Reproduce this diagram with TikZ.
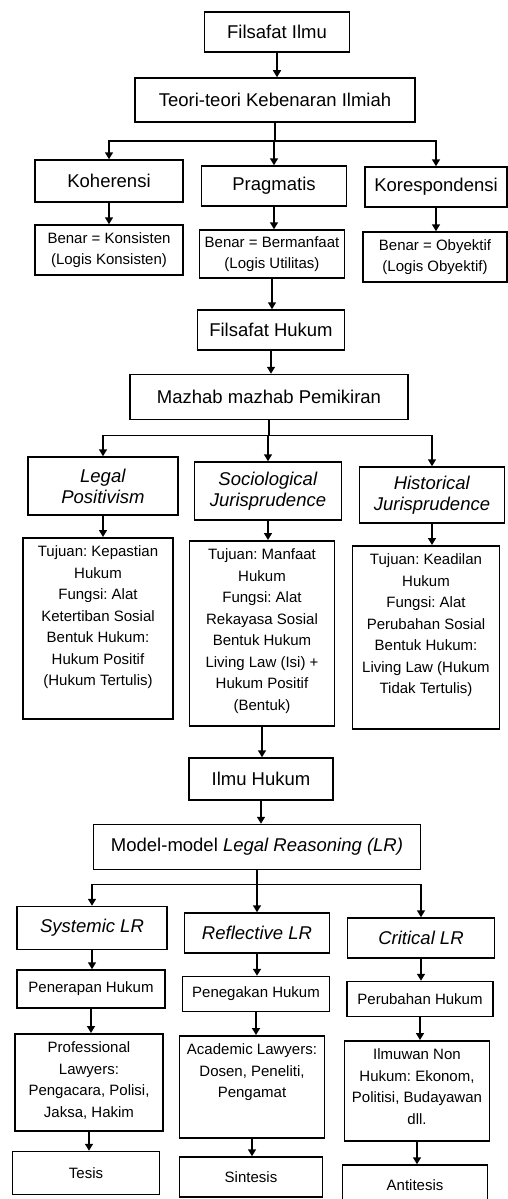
\documentclass[tikz,border=0pt]{standalone}
\usepackage{fontspec}
\setmainfont{Liberation Sans}
\usetikzlibrary{arrows.meta}

\tikzset{
  box/.style={draw,line width=1.5pt,align=center,inner sep=2pt,
    font=\fontsize{18.5}{21}\selectfont},
  smallbox/.style={draw,line width=1.5pt,align=center,inner sep=1pt,
    font=\fontsize{15}{21.5}\selectfont},
  descbox/.style={draw,line width=1.5pt,anchor=north,inner xsep=2pt,
    inner ysep=8pt,font=\fontsize{15}{21.5}\selectfont},
  link/.style={line width=1.5pt},
  arr/.style={line width=1.5pt,-{Triangle[width=8pt,length=7pt]}}
}
\newcommand{\toptext}[2]{\parbox[t][#1][t]{140pt}{\centering #2}}
\frenchspacing

\begin{document}
\begin{tikzpicture}[x=1pt,y=-1pt]
\useasboundingbox (0,0) rectangle (507,1199);

% Filsafat Ilmu and the three theories of truth
\node[box,minimum width=145pt,minimum height=40pt] (filsafat) at (277,32) {Filsafat Ilmu};
\node[box,minimum width=280pt,minimum height=44pt] (teori) at (275,100) {Teori-teori Kebenaran Ilmiah};
\node[box,minimum width=148pt,minimum height=42pt] (koh) at (109,181) {Koherensi};
\node[box,minimum width=145pt,minimum height=40pt] (prag) at (274,186) {Pragmatis};
\node[box,minimum width=142pt,minimum height=40pt] (kor) at (436,187) {Korespondensi};
\node[smallbox,minimum width=148pt,minimum height=50pt] (benK) at (109,250)
  {Benar = Konsisten\\(Logis Konsisten)};
\node[smallbox,minimum width=145pt,minimum height=48pt] (benB) at (272,254)
  {Benar = Bermanfaat\\(Logis Utilitas)};
\node[smallbox,minimum width=144pt,minimum height=50pt] (benO) at (435,257)
  {Benar = Obyektif\\(Logis Obyektif)};

% Filsafat Hukum and the schools of thought
\node[box,minimum width=147pt,minimum height=40pt] (fh) at (271,330) {Filsafat Hukum};
\node[box,minimum width=278pt,minimum height=45pt] (maz) at (269,397) {Mazhab mazhab Pemikiran};
\node[box,minimum width=150pt,minimum height=58pt] (legal) at (103,486)
  {\textit{Legal}\\\textit{Positivism}};
\node[box,minimum width=147pt,minimum height=58pt] (soc) at (268,491)
  {\textit{Sociological}\\\textit{Jurisprudence}};
\node[box,minimum width=145pt,minimum height=56pt] (hist) at (432,495)
  {\textit{Historical}\\\textit{Jurisprudence}};
\node[descbox,minimum width=150pt] (legD) at (98,537)
  {\toptext{165pt}{Tujuan: Kepastian\\Hukum\\Fungsi: Alat\\Ketertiban Sosial\\Bentuk Hukum:\\Hukum Positif\\(Hukum Tertulis)}};
\node[descbox,minimum width=145pt] (socD) at (262,540)
  {\toptext{169pt}{Tujuan: Manfaat\\Hukum\\Fungsi: Alat\\Rekayasa Sosial\\Bentuk Hukum\\Living Law (Isi) +\\Hukum Positif\\(Bentuk)}};
\node[descbox,minimum width=147pt] (histD) at (426,545)
  {\toptext{167pt}{Tujuan: Keadilan\\Hukum\\Fungsi: Alat\\Perubahan Sosial\\Bentuk Hukum:\\Living Law (Hukum\\Tidak Tertulis)}};

% Ilmu Hukum and the models of legal reasoning
\node[box,minimum width=144pt,minimum height=42pt] (ilmu) at (261,779) {Ilmu Hukum};
\node[box,minimum width=327pt,minimum height=45pt] (model) at (257,847)
  {Model-model \textit{Legal Reasoning (LR)}};
\node[box,minimum width=150pt,minimum height=43pt] (sys) at (92,928) {\textit{Systemic LR}};
\node[box,minimum width=145pt,minimum height=40pt] (ref) at (257,933) {\textit{Reflective LR}};
\node[box,minimum width=147pt,minimum height=40pt] (crit) at (421,938) {\textit{Critical LR}};
\node[smallbox,minimum width=148pt,minimum height=38pt] (pen1) at (91,989) {Penerapan Hukum};
\node[smallbox,minimum width=147pt,minimum height=35pt] (pen2) at (256,994) {Penegakan Hukum};
\node[smallbox,minimum width=146pt,minimum height=35pt] (pen3) at (420,999) {Perubahan Hukum};
\node[descbox,minimum width=148pt] (prof) at (89,1033)
  {\toptext{81pt}{Professional\\Lawyers:\\Pengacara, Polisi,\\Jaksa, Hakim}};
\node[descbox,minimum width=145pt] (acad) at (252,1035)
  {\toptext{86pt}{Academic Lawyers:\\Dosen, Peneliti,\\Pengamat}};
\node[descbox,minimum width=145pt] (ilmw) at (417,1040)
  {\toptext{84pt}{Ilmuwan Non\\Hukum: Ekonom,\\Politisi, Budayawan\\dll.}};
\node[smallbox,minimum width=147pt,minimum height=43pt] (tesis) at (86,1173) {Tesis};
\node[smallbox,minimum width=143pt,minimum height=40pt] (sint) at (251,1177) {Sintesis};
\node[smallbox,minimum width=145pt,minimum height=40pt] (anti) at (415,1185) {Antitesis};

% Branch points
\coordinate (b1) at ([yshift=-18pt]teori.south);
\coordinate (b2) at ([yshift=-15pt]maz.south);
\coordinate (b3) at ([yshift=-14pt]model.south);

% Connectors, upper part
\draw[arr] (filsafat.south) -- (filsafat.south |- teori.north);
\draw[link] (teori.south) -- (b1);
\draw[arr] (b1) -| (koh.north);
\draw[arr] (b1) -| (prag.north);
\draw[arr] (b1) -| (kor.north);
\draw[arr] (koh.south) -- (koh.south |- benK.north);
\draw[arr] (prag.south) -- (prag.south |- benB.north);
\draw[arr] (kor.south) -- (kor.south |- benO.north);
\draw[arr] (benB.south) -- (benB.south |- fh.north);

% Connectors, middle part
\draw[arr] (fh.south) -- (fh.south |- maz.north);
\draw[link] (maz.south) -- (b2);
\draw[arr] (b2) -| (legal.north);
\draw[arr] (b2) -| (soc.north);
\draw[arr] (b2) -| (hist.north);
\draw[arr] (legal.south) -- (legal.south |- legD.north);
\draw[arr] (soc.south) -- (soc.south |- socD.north);
\draw[arr] (hist.south) -- (hist.south |- histD.north);
\draw[arr] (socD.south) -- (socD.south |- ilmu.north);

% Connectors, lower part
\draw[arr] (ilmu.south) -- (ilmu.south |- model.north);
\draw[link] (model.south) -- (b3);
\draw[arr] (b3) -| (sys.north);
\draw[arr] (b3) -| (ref.north);
\draw[arr] (b3) -| (crit.north);
\draw[arr] (sys.south) -- (sys.south |- pen1.north);
\draw[arr] (ref.south) -- (ref.south |- pen2.north);
\draw[arr] (crit.south) -- (crit.south |- pen3.north);
\draw[arr] (pen1.south) -- (pen1.south |- prof.north);
\draw[arr] (pen2.south) -- (pen2.south |- acad.north);
\draw[arr] (pen3.south) -- (pen3.south |- ilmw.north);
\draw[arr] (prof.south) -- (prof.south |- tesis.north);
\draw[arr] (acad.south) -- (acad.south |- sint.north);
\draw[arr] (ilmw.south) -- (ilmw.south |- anti.north);
\end{tikzpicture}
\end{document}
